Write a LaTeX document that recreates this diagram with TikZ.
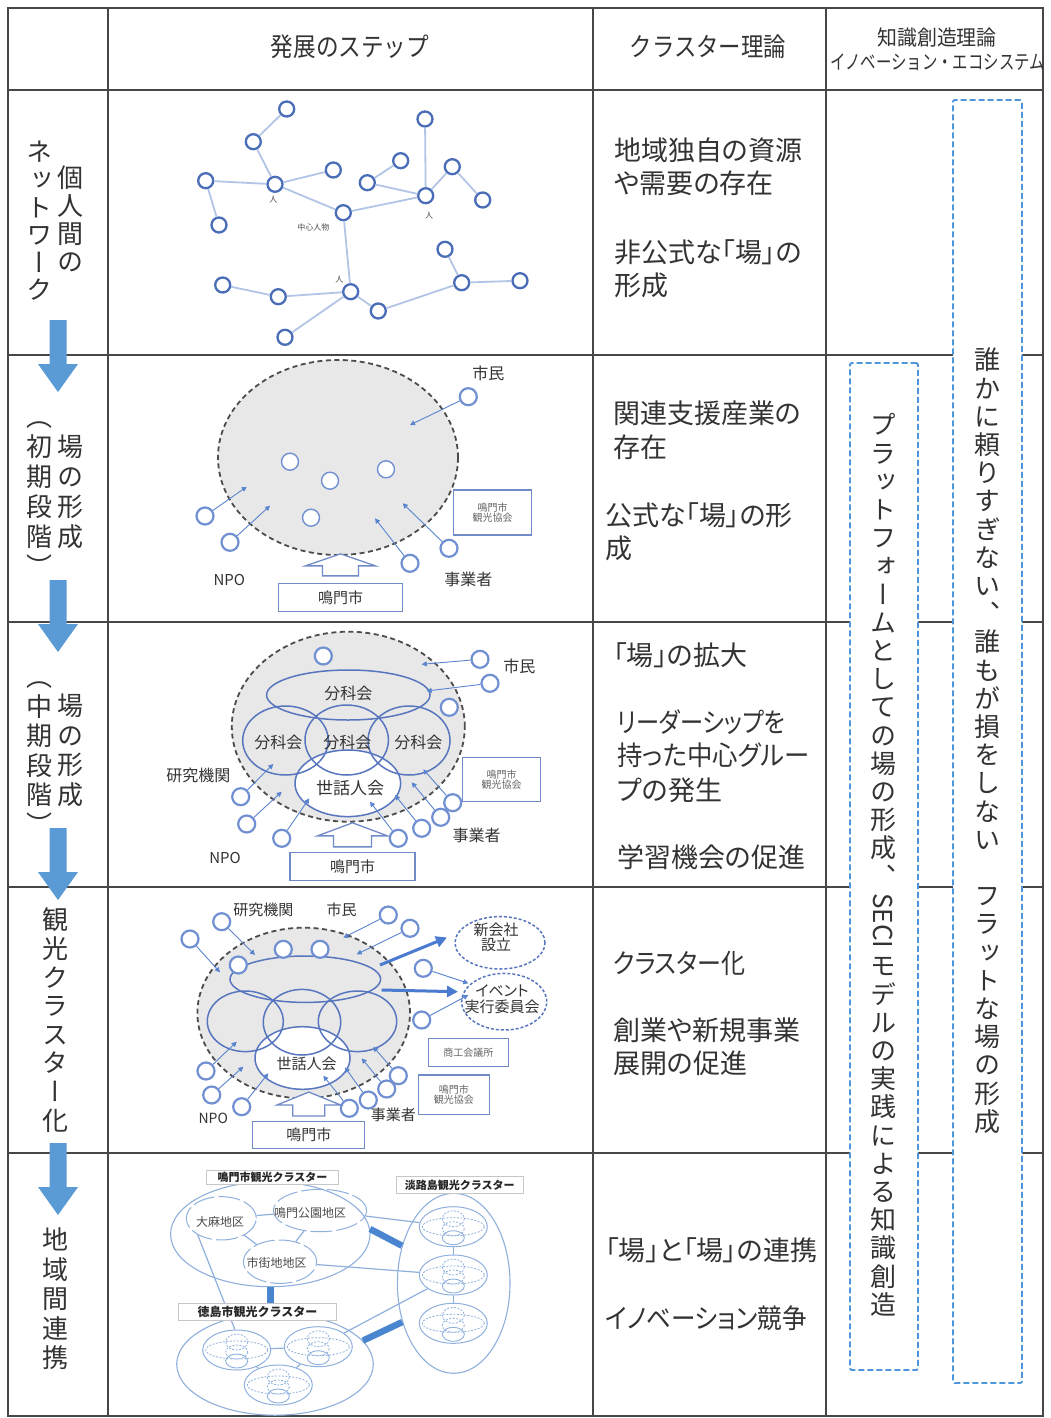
\documentclass[tikz,border=0pt]{standalone}
\usepackage{fontspec}
\usepackage{graphicx}
\usetikzlibrary{shapes.geometric,arrows.meta,calc}
\newfontfamily\jp{Noto Sans CJK JP}
\newfontfamily\jpp[RawFeature=+palt]{Noto Sans CJK JP}
\newfontfamily\jpv[RawFeature=+vert]{Noto Sans CJK JP}
\newcommand\fsz[1]{\fontsize{#1}{#1}\selectfont}
\definecolor{pblue}{HTML}{4A6DB8}
\definecolor{cblue}{HTML}{7090D2}
\definecolor{lblue}{HTML}{B3C5E6}
\definecolor{ablue}{HTML}{5A84CF}
\definecolor{gblue}{HTML}{5876BE}
\definecolor{dblue}{HTML}{4E95DB}
\definecolor{arblue}{HTML}{5B9BD5}
\definecolor{tblue}{HTML}{4A7BD0}
\definecolor{cfive}{HTML}{8FB0DD}
\definecolor{bblue}{HTML}{4A86CF}
\definecolor{txt}{HTML}{333333}
\newcommand\vseq[5]{\foreach \vc [count=\vi] in {#5} {\node[vch] (#1\vi) at (#2,{#3+(\vi-1)*(#4)}) {\vc};}}
\newcommand\hollowup[6]{\draw[hol] ([xshift=-#2pt,yshift=#6pt]#1.north) -- ++(0,-#4) -- ++({-(#3-#2)},0) -- ++(#3,-#5) -- ++(#3,#5) -- ++({-(#3-#2)},0) -- ++(0,#4) -- cycle;}
\newcommand\sx[2]{\scalebox{#1}[1]{#2}}
\tikzset{
 subcl/.pic={
  \node[ellipse, draw=cfive, line width=1pt, minimum width=68pt, minimum height=40pt, inner sep=0pt] (-o) at (0,0) {};
  \draw[cfive, line width=0.8pt, dash pattern=on 2pt off 1.5pt] (0,0) ellipse [x radius=31, y radius=9];
  \draw[cfive, line width=0.8pt, dash pattern=on 2pt off 1.5pt] (0,-8) ellipse [x radius=11, y radius=8];
  \draw[cfive, line width=0.8pt, dash pattern=on 2pt off 1.5pt] (0,2) ellipse [x radius=11, y radius=7];
  \draw[cfive, line width=0.9pt] (0,11) ellipse [x radius=11, y radius=7];
 },
 darr/.pic={\fill[arblue] (-8.5,0) -- (8.5,0) -- (8.5,44) -- (20,44) -- (0,72) -- (-20,44) -- (-8.5,44) -- cycle;}
}
\begin{document}
\begin{tikzpicture}[x=1pt,y=-1pt,
 tline/.style={draw=black!72, line width=1.8pt},
 hd/.style={font=\jp\fsz{26}, text=txt, inner sep=0pt},
 ct/.style={font=\jpp\fsz{27}, text=txt, inner sep=0pt, anchor=west},
 vch/.style={font=\jpv\fsz{26}, text=txt, inner sep=0pt, text height=22.9pt, text depth=3.1pt},
 dbox/.style={draw=dblue, line width=1.8pt, dash pattern=on 6pt off 3pt, fill=white, rounded corners=1.5pt, inner sep=0pt},
 pc/.style={circle, draw=pblue, line width=2.3pt, fill=white, minimum size=15pt, inner sep=0pt},
 pc2/.style={circle, draw=cblue, line width=2.2pt, fill=white, minimum size=17pt, inner sep=0pt},
 ic/.style={circle, draw=cblue, line width=1.4pt, fill=white, minimum size=17pt, inner sep=0pt},
 lk/.style={draw=lblue, line width=1.8pt},
 ar/.style={draw=ablue, line width=0.9pt, -{Triangle[length=5pt,width=5pt]}},
 fld/.style={ellipse, draw=black!70, dash pattern=on 5pt off 3.5pt, line width=1.8pt, fill=black!9, inner sep=0pt},
 grp/.style={ellipse, draw=gblue, line width=1.5pt, inner sep=0pt},
 sbox/.style={draw=gblue!85, line width=1.3pt, fill=white, font=\jp\fsz{10}, text=black!60, align=center, inner sep=0pt},
 cbox/.style={draw=gblue!85, line width=1.3pt, fill=white, font=\jp\fsz{15}, text=txt, inner sep=0pt},
 lab/.style={font=\jp\fsz{16}, text=txt, inner sep=0pt},
 tiny/.style={font=\jp\fsz{8}, text=black!70, inner sep=0pt},
 hol/.style={draw=gblue!85, line width=1.3pt, fill=white},
 nwe/.style={ellipse, draw=gblue, dash pattern=on 3pt off 2pt, line width=1.5pt, fill=white, inner sep=0pt},
 thk/.style={draw=tblue, line width=3pt, -{Triangle[length=11pt,width=11pt]}},
 cl/.style={ellipse, draw=cfive, line width=1.1pt, inner sep=0pt},
 subar/.style={ellipse, draw=cfive, line width=1pt, dash pattern=on 22pt off 4pt, inner sep=0pt},
 l5/.style={draw=cfive, line width=1.2pt},
 br/.style={draw=bblue, line width=6.5pt},
 lbx/.style={draw=black!22, line width=1pt, fill=white, font=\jp\bfseries\fsz{11}, text=black!85, inner sep=0pt},
 sl/.style={font=\jp\fsz{12}, text=black!70, inner sep=0pt}
]
\useasboundingbox[fill=white] (0,0) rectangle (1051,1418);
% ---------- table ----------
\draw[tline] (8,8) rectangle (1043,1416);
\draw[tline, line width=2.4pt] (8,90) -- (1043,90);
\foreach \yy in {355,622,887,1153} \draw[tline] (8,\yy) -- (1043,\yy);
\foreach \xx in {108,593,826} \draw[tline] (\xx,8) -- (\xx,1416);
% ---------- headers ----------
\node[hd] (h1) at (350,47) {\sx{0.87}{発展のステップ}};
\node[hd] (h2) at (708,47) {\sx{0.86}{クラスター理論}};
\node[hd, font=\jp\fsz{21}] (h3) at (937,38) {\sx{0.95}{知識創造理論}};
\node[hd, font=\jp\fsz{20}] (h4) at (937.5,62) {\sx{0.77}{イノベーション・エコシステム}};
% ---------- left column ----------
\vseq{lA}{70}{178}{28}{個,人,間,の}
\vseq{lB}{40}{152}{27.6}{ネ,ッ,ト,ワ,ー,ク}
\vseq{lC}{70}{447}{30}{場,の,形,成}
\vseq{lD}{40}{417}{30}{（,初,期,段,階,）}
\vseq{lE}{70}{706}{29.5}{場,の,形,成}
\vseq{lF}{40}{677}{29.5}{（,中,期,段,階,）}
\vseq{lG}{55}{920}{28.6}{観,光,ク,ラ,ス,タ,ー,化}
\vseq{lH}{55}{1240}{29.5}{地,域,間,連,携}
\pic (da1) at (58,320) {darr};
\pic (da2) at (58,580) {darr};
\pic (da3) at (58,828) {darr};
\pic (da4) at (58,1143) {darr};
% ---------- cluster theory column ----------
\node[ct] (c11) at (614,150) {地域独自の資源};
\node[ct] (c12) at (614,183) {や需要の存在};
\node[ct] (c13) at (614,252) {非公式な「場」の};
\node[ct] (c14) at (614,285) {形成};
\node[ct] (c21) at (613,413) {関連支援産業の};
\node[ct] (c22) at (613,447) {存在};
\node[ct] (c23) at (605,515) {公式な「場」の形};
\node[ct] (c24) at (605,548) {成};
\node[ct] (c31) at (613,655) {「場」の拡大};
\node[ct] (c32) at (617,722) {\sx{0.86}{リーダーシップを}};
\node[ct] (c33) at (617,755) {\sx{0.94}{持った中心グルー}};
\node[ct] (c34) at (617,790) {プの発生};
\node[ct] (c35) at (617,857) {学習機会の促進};
\node[ct] (c41) at (613,963) {\sx{0.89}{クラスター化}};
\node[ct] (c42) at (613,1030) {創業や新規事業};
\node[ct] (c43) at (613,1063) {展開の促進};
\node[ct] (c51) at (605,1250) {「場」と「場」の連携};
\node[ct] (c52) at (605,1318) {\sx{0.91}{イノベーション競争}};
% ---------- knowledge column ----------
\node[dbox, minimum width=69pt, minimum height=1283pt] (boxA) at (987.5,741.5) {};
\node[dbox, minimum width=68pt, minimum height=1007pt] (boxB) at (884,866.5) {};
\vseq{tA}{987}{360}{28.2}{誰,か,に,頼,り,す,ぎ,な,い,、,誰,も,が,損,を,し,な,い,{},フ,ラ,ッ,ト,な,場,の,形,成}
\vseq{tB}{883}{425}{28.2}{プ,ラ,ッ,ト,フ,ォ,ー,ム,と,し,て,の,場,の,形,成,、}
\node[font=\jp\fsz{26}, text=txt, inner sep=0pt, rotate=-90] (tBseci) at (883,921) {SECI};
\vseq{tC}{883}{966}{28.2}{モ,デ,ル,の,実,践,に,よ,る,知,識,創,造}
% ---------- row 1: network ----------
\foreach \n/\x/\y in {a/286.7/109, b/253.3/141.7, c/205.7/180.7, d/275/184.3, e/333.3/170, f/219/225, g/343.3/212.7, h/425/119, i/400.7/160.7, j/367.3/182.7, k/425.7/195.7, l/452.3/166.7, m/482.7/200, n/350.7/291.7, o/222.7/285, p/278.3/296.7, q/285/337.3, r/378.3/311, s/461.7/282.7, t/445/249.3, u/520/280.7}
  \node[pc] (p\n) at (\x,\y) {};
\foreach \a/\b in {a/b,b/d,c/d,d/e,c/f,d/g,g/k,h/k,i/j,j/k,k/l,l/m,g/n,o/p,p/n,n/q,n/r,r/s,s/t,s/u}
  \draw[lk] (p\a) -- (p\b);
\node[tiny] (pl1) at (273.3,200) {人};
\node[tiny] (pl2) at (313.3,227.3) {中心人物};
\node[tiny] (pl3) at (429,216) {人};
\node[tiny] (pl4) at (339.3,280) {人};
% ---------- row 2 ----------
\node[fld, minimum width=240pt, minimum height=195pt] (f2) at (338,457.5) {};
\foreach \n/\x/\y in {1/290/461.7, 2/330/480.7, 3/386/469.3, 4/311/517.7}
  \node[ic] (i2\n) at (\x,\y) {};
\foreach \n/\x/\y/\tx/\ty in {1/468.3/396.7/410/425, 2/205/516/246.7/486.7, 3/230/542.3/270/505.7, 4/410/563.3/375/518.3, 5/449/548.3/402.7/503.3}
  {\node[pc2] (o2\n) at (\x,\y) {}; \coordinate (t2\n) at (\tx,\ty); \draw[ar] (o2\n) -- (t2\n);}
\node[sbox, minimum width=78pt, minimum height=45pt] (b2) at (492.5,512.5) {鳴門市\\観光協会};
\node[lab] (m2a) at (488.3,373.3) {市民};
\node[lab, font=\jp\fsz{15}] (m2b) at (229.3,580) {NPO};
\node[lab] (m2c) at (468.3,579) {事業者};
\node[cbox, minimum width=124pt, minimum height=28pt] (cty2) at (340.5,597.5) {鳴門市};
\hollowup{cty2}{18}{35}{10}{12}{7}
% ---------- row 3 ----------
\node[fld, minimum width=233pt, minimum height=190pt] (f3) at (348.3,726.7) {};
\node[grp, fill=white, minimum width=105.6pt, minimum height=66.6pt] (g3e) at (347.8,783.3) {};
\node[grp, minimum width=163.4pt, minimum height=50pt] (g3t) at (348.3,695) {};
\node[grp, minimum width=85.6pt, minimum height=69pt] (g3l) at (285.5,740.5) {};
\node[grp, minimum width=83.4pt, minimum height=70pt] (g3m) at (346.7,740) {};
\node[grp, minimum width=82pt, minimum height=69pt] (g3r) at (409,740.5) {};
\node[lab] (g3tl) at (348.3,693.3) {分科会};
\node[lab] (g3ll) at (278.3,742.7) {分科会};
\node[lab] (g3ml) at (347.3,742.7) {分科会};
\node[lab] (g3rl) at (418.3,742.7) {分科会};
\node[lab, font=\jp\fsz{17}] (g3el) at (350,788.3) {世話人会};
\node[pc2] (o3a) at (323.3,656) {};
\node[pc2] (o3b) at (449.3,707.3) {};
\foreach \n/\x/\y/\tx/\ty in {1/480/659.3/421.7/664.3, 2/490/683.3/426.7/691, 3/240.7/796.7/273.3/764, 4/246.7/824/281.7/791.7, 5/281.7/838.3/309.3/798.3, 6/398.3/838.3/370/801.7, 7/421.7/828.3/395/795, 8/440.7/817.3/411.7/782.3, 9/452.7/802.7/423.3/769.3}
  {\node[pc2] (o3\n) at (\x,\y) {}; \coordinate (t3\n) at (\tx,\ty); \draw[ar] (o3\n) -- (t3\n);}
\node[sbox, minimum width=78pt, minimum height=44pt] (b3) at (501.7,779.5) {鳴門市\\観光協会};
\node[lab] (m3a) at (519.3,666.7) {市民};
\node[lab] (m3b) at (198.3,775) {研究機関};
\node[lab, font=\jp\fsz{15}] (m3c) at (225,858.3) {NPO};
\node[lab] (m3d) at (476.7,835) {事業者};
\node[cbox, minimum width=125pt, minimum height=28pt] (cty3) at (352.5,866.5) {鳴門市};
\hollowup{cty3}{19}{35}{11}{13}{5}
% ---------- row 4 ----------
\node[fld, minimum width=212.6pt, minimum height=170.6pt] (f4) at (303.7,1013) {};
\node[grp, fill=white, minimum width=95pt, minimum height=62.6pt] (g4e) at (302.5,1058) {};
\node[grp, minimum width=150.6pt, minimum height=46.4pt] (g4t) at (305.3,979.2) {};
\node[grp, minimum width=76pt, minimum height=60.6pt] (g4l) at (245.3,1021.3) {};
\node[grp, minimum width=77.4pt, minimum height=65.6pt] (g4m) at (302,1022.2) {};
\node[grp, minimum width=78.4pt, minimum height=60.6pt] (g4r) at (357.5,1021.3) {};
\node[lab, font=\jp\fsz{15}] (g4el) at (306.7,1064.3) {世話人会};
\node[pc2] (o4a) at (283.3,949.3) {};
\node[pc2] (o4b) at (320,949.3) {};
\node[pc2] (o4c) at (238.3,965) {};
\node[nwe, minimum width=90pt, minimum height=52.4pt] (nw1) at (500,942.8) {};
\node[nwe, minimum width=85pt, minimum height=56.6pt] (nw2) at (504.2,1001.7) {};
\node[lab, font=\jp\fsz{15}, align=center] (nw1l) at (496,937.5) {新会社\\設立};
\node[lab, font=\jpp\fsz{15}, align=center] (nw2l) at (502,999) {イベント\\[1pt]実行委員会};
\foreach \n/\x/\y/\tx/\ty in {1/221.7/921.7/255/955, 2/190/939/220/972.3, 3/388.3/915/343.3/937.7, 4/410/928.3/356.7/954.3, 5/423.3/968.3/468.3/983.3, 6/421.7/1020/468.3/995, 7/206/1071/236.7/1041.7, 8/211.7/1095/243.3/1066.7, 9/241.7/1106.7/268.3/1073.3, 10/349.3/1108.3/323.3/1075.7, 11/368.3/1100/345/1067.3, 12/386.7/1089/361.7/1058.3, 13/398.3/1075.7/373.3/1046.7}
  {\node[pc2] (o4\n) at (\x,\y) {}; \coordinate (t4\n) at (\tx,\ty); \draw[ar] (o4\n) -- (t4\n);}
\coordinate (s41) at (380,965);
\coordinate (e41) at (447,937.5);
\coordinate (s42) at (381.7,990);
\coordinate (e42) at (458,991.7);
\draw[thk] (s41) -- (e41);
\draw[thk] (s42) -- (e42);
\node[sbox, minimum width=80pt, minimum height=28.4pt] (b4a) at (468.3,1052.5) {商工会議所};
\node[sbox, minimum width=71pt, minimum height=39.3pt] (b4b) at (453.8,1094.7) {鳴門市\\観光協会};
\node[lab, font=\jp\fsz{15}] (m4a) at (263.3,910) {研究機関};
\node[lab, font=\jp\fsz{15}] (m4b) at (341.7,910) {市民};
\node[lab, font=\jp\fsz{14}] (m4c) at (213.3,1118.3) {NPO};
\node[lab, font=\jp\fsz{15}] (m4d) at (393.3,1115) {事業者};
\node[cbox, minimum width=112pt, minimum height=26.6pt] (cty4) at (308.8,1135) {鳴門市};
\hollowup{cty4}{16}{32}{11}{13}{5}
% ---------- row 5 ----------
\node[cl, minimum width=199.4pt, minimum height=105pt] (r5naruto) at (270.3,1234.2) {};
\node[cl, minimum width=112.6pt, minimum height=180pt] (r5awaji) at (453.7,1283.3) {};
\node[cl, minimum width=196.6pt, minimum height=102pt] (r5toku) at (275,1364.2) {};
\node[subar, minimum width=70pt, minimum height=43.3pt] (r5oa) at (221.3,1218.3) {};
\node[subar, minimum width=93.4pt, minimum height=42.4pt] (r5np) at (320,1210.5) {};
\node[subar, minimum width=73.4pt, minimum height=43.4pt] (r5sg) at (280,1261.7) {};
\node[sl] (r5oal) at (220,1221.7) {大麻地区};
\node[sl] (r5npl) at (310,1212.7) {鳴門公園地区};
\node[sl] (r5sgl) at (276.7,1263.3) {市街地地区};
\pic (aw1) at (453.3,1226.7) {subcl};
\pic (aw2) at (453.3,1275) {subcl};
\pic (aw3) at (453.3,1323.3) {subcl};
\pic (tk1) at (236.7,1350) {subcl};
\pic (tk2) at (318.3,1346.7) {subcl};
\pic (tk3) at (278.3,1385) {subcl};
\draw[l5] (r5oa) -- (r5np);
\draw[l5] (r5oa) -- (r5sg);
\draw[l5] (r5np) -- (r5sg);
\draw[l5] (r5np) -- (aw1-o);
\draw[l5] (r5sg) -- (aw2-o);
\draw[l5] (r5oa.215) -- (tk1-o.95);
\draw[l5] (tk2-o) -- (aw2-o);
\draw[l5] (aw1-o) -- (aw2-o);
\draw[l5] (aw2-o) -- (aw3-o);
\draw[l5] (tk1-o) -- (tk2-o);
\draw[l5] (tk1-o) -- (tk3-o);
\draw[l5] (tk2-o) -- (tk3-o);
\node[lbx, minimum width=131.6pt, minimum height=14pt] (r5nbox) at (272.5,1177) {鳴門市観光クラスター};
\node[lbx, minimum width=127.3pt, minimum height=16.6pt] (r5abox) at (459.7,1185) {淡路島観光クラスター};
\node[lbx, minimum width=158.4pt, minimum height=17.4pt, font=\jp\bfseries\fsz{12}] (r5tbox) at (257.5,1312) {徳島市観光クラスター};
\draw[br] (r5naruto.3) -- (r5awaji.144);
\draw[br] (r5naruto.south) -- (r5naruto.south |- r5tbox.north);
\draw[br] (r5toku.15) -- (r5awaji.217);
\end{tikzpicture}
\end{document}
